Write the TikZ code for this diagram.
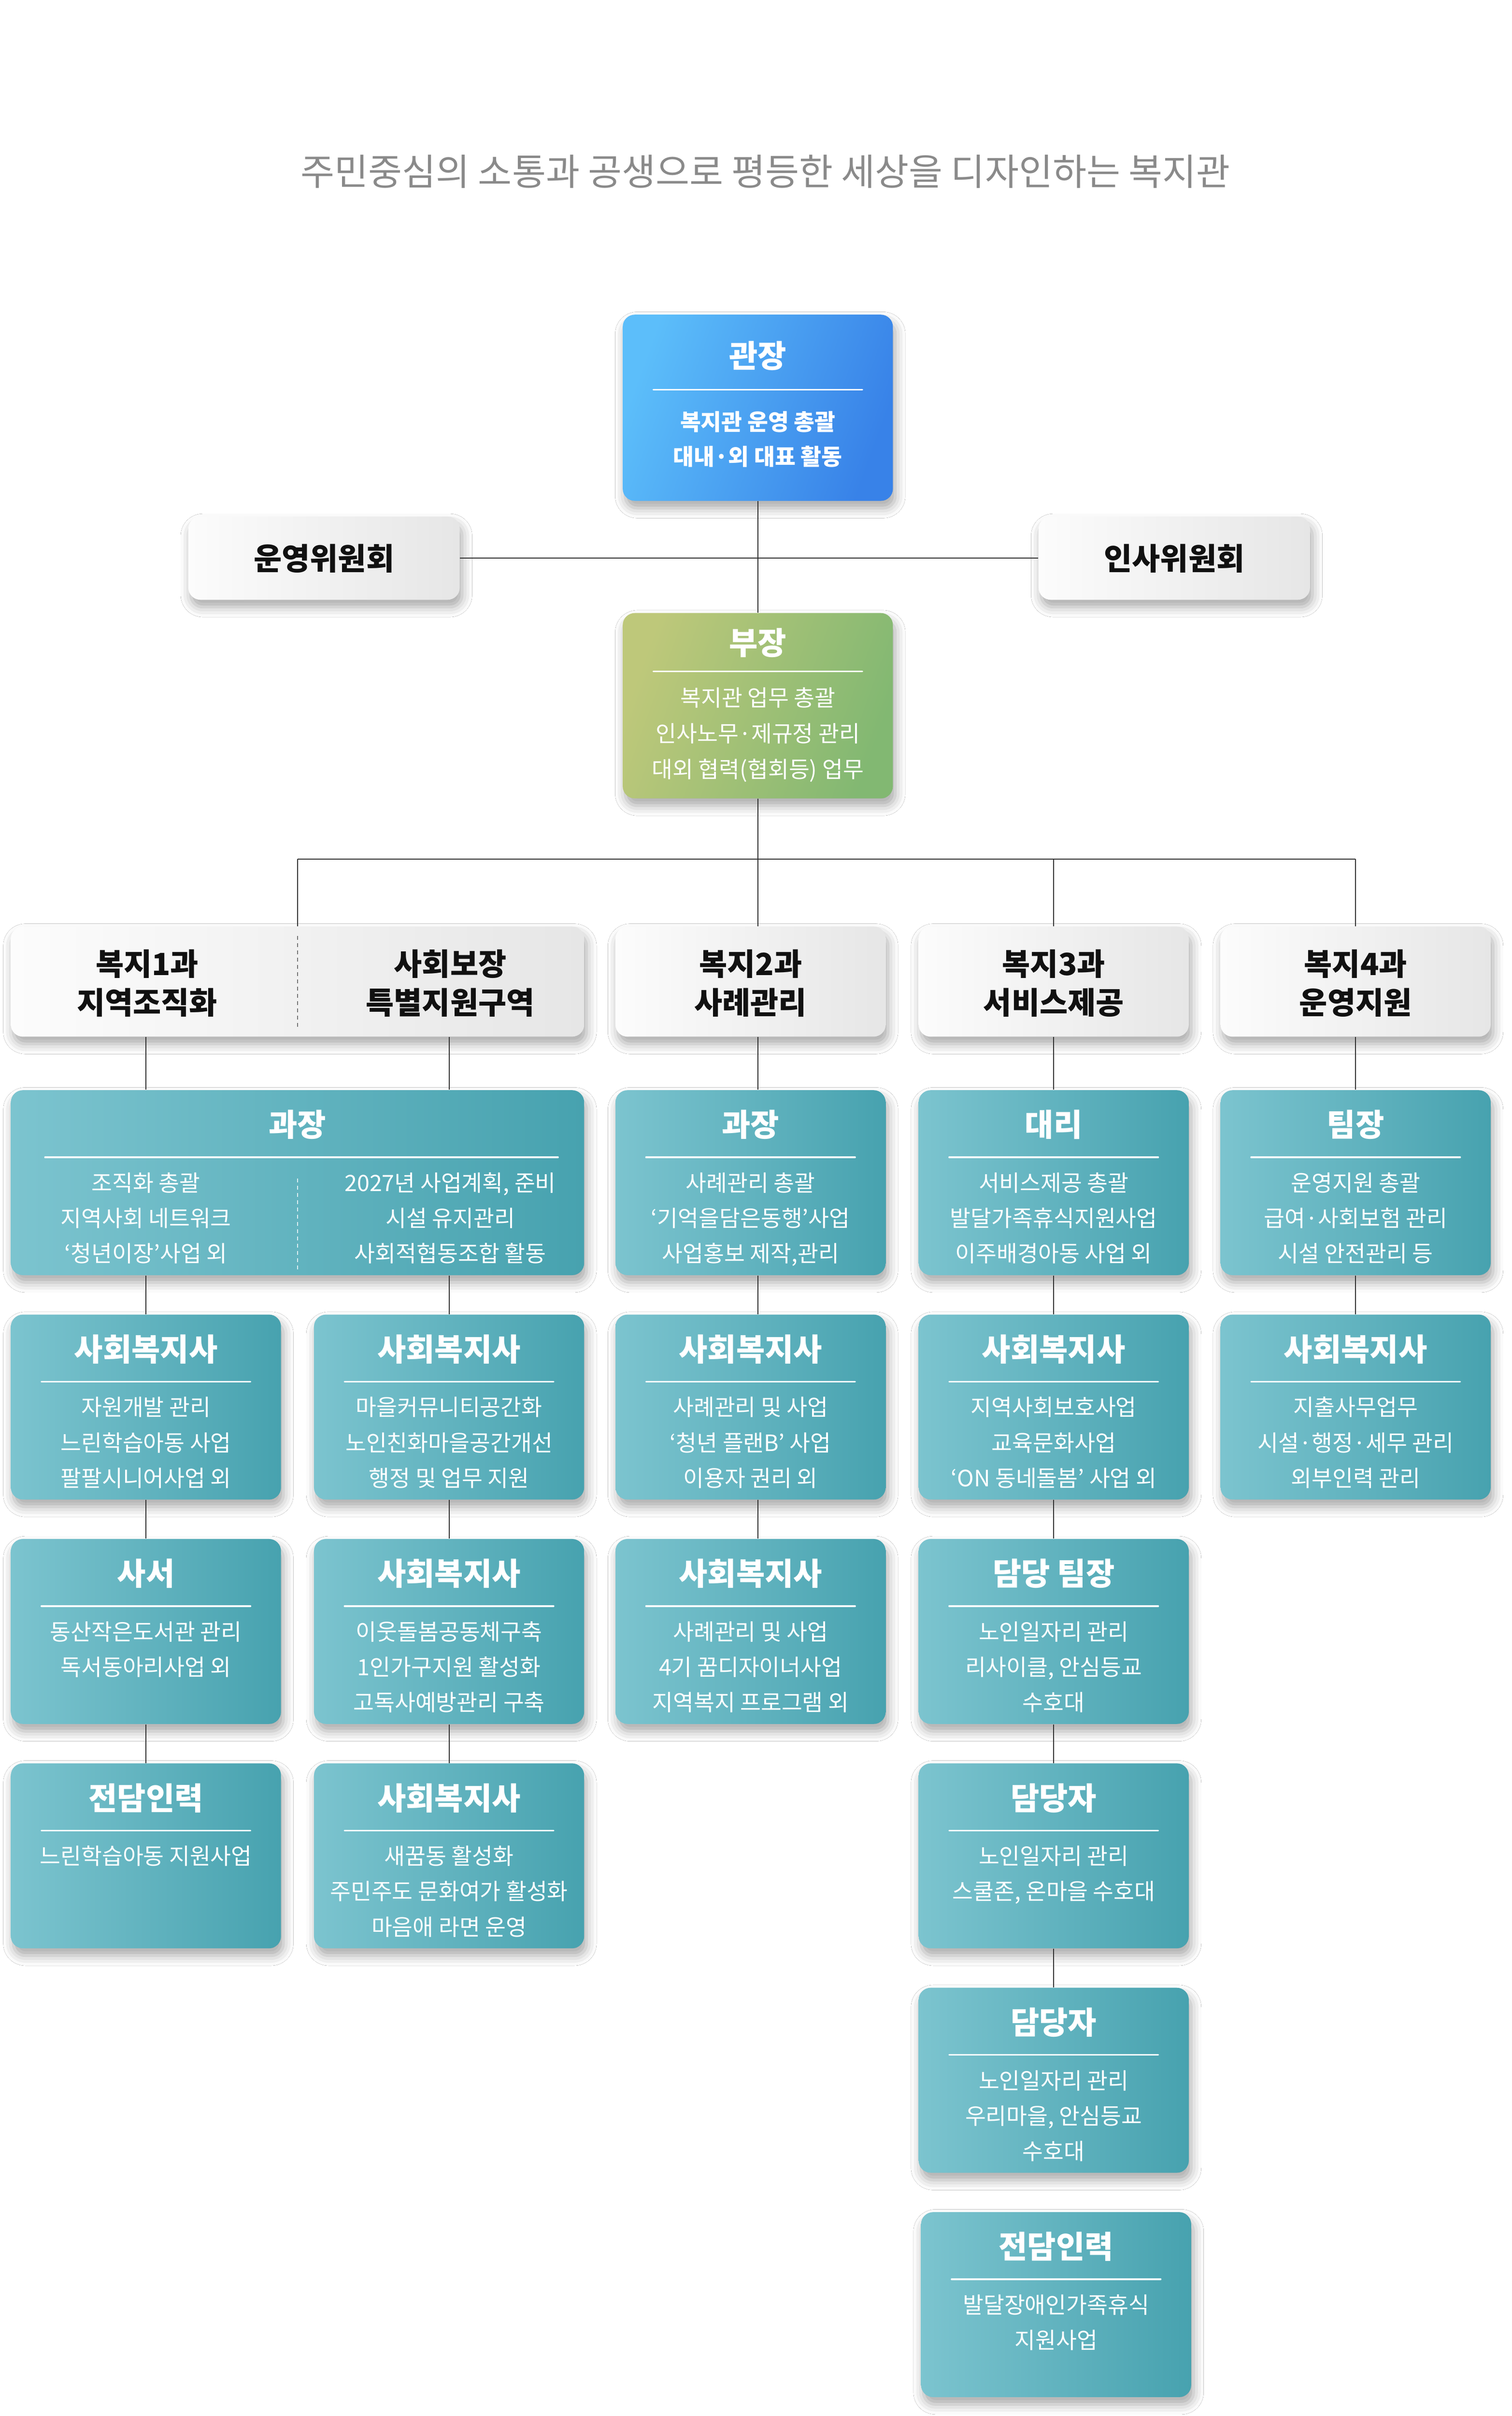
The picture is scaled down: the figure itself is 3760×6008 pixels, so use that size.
\documentclass[tikz,border=0pt]{standalone}
\usepackage{fontspec}
\setmainfont{Noto Sans CJK KR}
\usetikzlibrary{shadows.blur}
\definecolor{tealL}{HTML}{7CC4CF}
\definecolor{tealR}{HTML}{47A2AF}
\definecolor{blueL}{HTML}{5CBEFA}
\definecolor{blueR}{HTML}{3882E8}
\definecolor{grnL}{HTML}{BEC87A}
\definecolor{grnR}{HTML}{82B872}
\definecolor{gryL}{HTML}{FCFCFC}
\definecolor{gryR}{HTML}{E6E6E6}
\definecolor{headgray}{HTML}{8A8A8A}
\definecolor{conn}{HTML}{2E2E2E}
\definecolor{inkblack}{HTML}{111111}
\newcommand\fsTitle{\fontsize{15.5pt}{18pt}\selectfont\bfseries}
\newcommand\fsBody{\fontsize{11.2pt}{13pt}\selectfont}
\newcommand\fsBodyB{\fontsize{11.2pt}{13pt}\selectfont\bfseries}
\newcommand\fsGray{\fontsize{15.2pt}{18pt}\selectfont\bfseries}
\newcommand\fsHead{\fontsize{18.3pt}{21pt}\selectfont}
\tikzset{
  x=0.2pt, y=-0.2pt,
  boxbase/.style={rectangle, rounded corners=6pt, inner sep=0pt, draw=none,
    minimum width=134.4pt, minimum height=92pt,
    blur shadow={shadow xshift=1.2pt, shadow yshift=-3.6pt, shadow blur radius=5pt, shadow opacity=34}},
  tealbox/.style={boxbase, left color=tealL, right color=tealR},
  graybox/.style={boxbase, left color=gryL, right color=gryR, minimum height=54.8pt},
  ttitle/.style={inner sep=0pt, text=white, font=\fsTitle, text height=12.4pt, text depth=1.6pt},
  tbody/.style={inner sep=0pt, text=white, font=\fsBody, text height=9pt, text depth=1.2pt},
  tbodyb/.style={tbody, font=\fsBodyB},
  gtext/.style={inner sep=0pt, text=inkblack, font=\fsGray, text height=12.2pt, text depth=1.5pt},
  sepline/.style={draw=white, line width=0.8pt, line cap=round},
  connector/.style={draw=conn, line width=0.5pt},
  divline/.style={line width=0.4pt, dash pattern=on 1.8pt off 1.8pt},
}
% #1 name, #2 centre x, #3 top y, #4 title, #5 lines
\newcommand\orgbox[5]{%
  \node[tealbox] (#1) at (#2,#3+230) {};
  \node[ttitle] (#1-t) at (#2,#3+88) {#4};
  \draw[sepline] (#2-260,#3+167) -- (#2+260,#3+167);
  \foreach \bl [count=\i] in {#5} {\node[tbody] (#1-b\i) at (#2,#3+144+88*\i) {\bl};}
}
% #1 name, #2 centre x, #3 line1, #4 line2
\newcommand\grayhead[4]{%
  \node[graybox] (#1) at (#2,2441) {};
  \node[gtext] (#1-a) at (#2,2399) {#3};
  \node[gtext] (#1-b) at (#2,2495) {#4};
}
\begin{document}
\begin{tikzpicture}
\useasboundingbox (0,0) rectangle (3760,6008);
\fill[white] (0,0) rectangle (3760,6008);

% heading
\node[inner sep=0pt, text=headgray, font=\fsHead] (heading) at (1904,427)
  {주민중심의 소통과 공생으로 평등한 세상을 디자인하는 복지관};

% director
\node[boxbase, left color=blueL, right color=blueR, shading angle=70, minimum height=92.6pt] (gwanjang) at (1885,1014) {};
\node[ttitle] (gwanjang-t) at (1885,887) {관장};
\draw[sepline] (1625,969) -- (2145,969);
\node[tbodyb] (gwanjang-b1) at (1885,1050) {복지관 운영 총괄};
\node[tbodyb] (gwanjang-b2) at (1885,1137) {대내·외 대표 활동};

% committees
\node[boxbase, left color=gryL, right color=gryR, minimum width=135pt, minimum height=41.4pt] (unyeong) at (806,1388) {};
\node[gtext] (unyeong-t) at (806,1390) {운영위원회};
\node[boxbase, left color=gryL, right color=gryR, minimum width=135pt, minimum height=41.4pt] (insa) at (2921,1388) {};
\node[gtext] (insa-t) at (2921,1390) {인사위원회};

% deputy
\node[boxbase, left color=grnL, right color=grnR, shading angle=70, minimum height=92.2pt] (bujang) at (1885,1755) {};
\node[ttitle] (bujang-t) at (1885,1600) {부장};
\draw[sepline] (1625,1670) -- (2145,1670);
\node[tbody] (bujang-b1) at (1885,1737) {복지관 업무 총괄};
\node[tbody] (bujang-b2) at (1885,1826) {인사노무·제규정 관리};
\node[tbody] (bujang-b3) at (1885,1914) {대외 협력(협회등) 업무};

% department heads
\node[graybox, minimum width=285.2pt] (g01) at (740,2441) {};
\node[gtext] (g01-a) at (366,2399) {복지1과};
\node[gtext] (g01-b) at (366,2495) {지역조직화};
\node[gtext] (g01-c) at (1120,2399) {사회보장};
\node[gtext] (g01-d) at (1120,2495) {특별지원구역};
\draw[divline, draw=black!55] (740,2328) -- (740,2553);
\grayhead{g2}{1867}{복지2과}{사례관리}
\grayhead{g3}{2621}{복지3과}{서비스제공}
\grayhead{g4}{3372}{복지4과}{운영지원}

% row 1
\node[tealbox, minimum width=285.2pt] (t01) at (740,2941) {};
\node[ttitle] (t01-t) at (740,2799) {과장};
\draw[sepline] (112,2878) -- (1388,2878);
\node[tbody] (t01-l1) at (363,2943) {조직화 총괄};
\node[tbody] (t01-l2) at (363,3031) {지역사회 네트워크};
\node[tbody] (t01-l3) at (363,3119) {‘청년이장’사업 외};
\node[tbody] (t01-r1) at (1120,2943) {2027년 사업계획, 준비};
\node[tbody] (t01-r2) at (1120,3031) {시설 유지관리};
\node[tbody] (t01-r3) at (1120,3119) {사회적협동조합 활동};
\draw[divline, draw=white, draw opacity=0.8] (740,2931) -- (740,3157);
\orgbox{c2r1}{1867}{2711}{과장}{{사례관리 총괄},{‘기억을담은동행’사업},{사업홍보 제작,관리}}
\orgbox{c3r1}{2621}{2711}{대리}{{서비스제공 총괄},{발달가족휴식지원사업},{이주배경아동 사업 외}}
\orgbox{c4r1}{3372}{2711}{팀장}{{운영지원 총괄},{급여·사회보험 관리},{시설 안전관리 등}}

% row 2
\orgbox{c0r2}{363}{3269}{사회복지사}{{자원개발 관리},{느린학습아동 사업},{팔팔시니어사업 외}}
\orgbox{c1r2}{1117}{3269}{사회복지사}{{마을커뮤니티공간화},{노인친화마을공간개선},{행정 및 업무 지원}}
\orgbox{c2r2}{1867}{3269}{사회복지사}{{사례관리 및 사업},{‘청년 플랜B’ 사업},{이용자 권리 외}}
\orgbox{c3r2}{2621}{3269}{사회복지사}{{지역사회보호사업},{교육문화사업},{‘ON 동네돌봄’ 사업 외}}
\orgbox{c4r2}{3372}{3269}{사회복지사}{{지출사무업무},{시설·행정·세무 관리},{외부인력 관리}}

% row 3
\orgbox{c0r3}{363}{3827}{사서}{{동산작은도서관 관리},{독서동아리사업 외}}
\orgbox{c1r3}{1117}{3827}{사회복지사}{{이웃돌봄공동체구축},{1인가구지원 활성화},{고독사예방관리 구축}}
\orgbox{c2r3}{1867}{3827}{사회복지사}{{사례관리 및 사업},{4기 꿈디자이너사업},{지역복지 프로그램 외}}
\orgbox{c3r3}{2621}{3827}{담당 팀장}{{노인일자리 관리},{리사이클, 안심등교},{수호대}}

% row 4
\orgbox{c0r4}{363}{4385}{전담인력}{{느린학습아동 지원사업}}
\orgbox{c1r4}{1117}{4385}{사회복지사}{{새꿈동 활성화},{주민주도 문화여가 활성화},{마음애 라면 운영}}
\orgbox{c3r4}{2621}{4385}{담당자}{{노인일자리 관리},{스쿨존, 온마을 수호대}}

% rows 5-6
\orgbox{c3r5}{2621}{4943}{담당자}{{노인일자리 관리},{우리마을, 안심등교},{수호대}}
\orgbox{c3r6}{2627}{5501}{전담인력}{{발달장애인가족휴식},{지원사업}}

% connectors
\coordinate (busL) at (740,2136);
\coordinate (busR) at (3372,2136);
\draw[connector] (gwanjang.south) -- (bujang.north);
\draw[connector] (unyeong.east) -- (insa.west);
\draw[connector] (bujang.south) -- (bujang.south |- g2.north);
\draw[connector] (busL) -- (busR);
\draw[connector] (busL) -- (g01.north);
\draw[connector] (g3.north |- busL) -- (g3.north);
\draw[connector] (busR) -- (g4.north);

\draw[connector] (g01.south -| c0r2.north) -- (t01.north -| c0r2.north);
\draw[connector] (g01.south -| c1r2.north) -- (t01.north -| c1r2.north);
\draw[connector] (g2.south -| bujang.south) -- (c2r1.north -| bujang.south);
\draw[connector] (g3.south) -- (c3r1.north);
\draw[connector] (g4.south) -- (c4r1.north);

\draw[connector] (t01.south -| c0r2.north) -- (c0r2.north);
\draw[connector] (t01.south -| c1r2.north) -- (c1r2.north);
\draw[connector] (c2r1.south -| bujang.south) -- (c2r2.north -| bujang.south);
\draw[connector] (c3r1.south) -- (c3r2.north);
\draw[connector] (c4r1.south) -- (c4r2.north);

\draw[connector] (c0r2.south) -- (c0r3.north);
\draw[connector] (c1r2.south) -- (c1r3.north);
\draw[connector] (c2r2.south -| bujang.south) -- (c2r3.north -| bujang.south);
\draw[connector] (c3r2.south) -- (c3r3.north);

\draw[connector] (c0r3.south) -- (c0r4.north);
\draw[connector] (c1r3.south) -- (c1r4.north);
\draw[connector] (c3r3.south) -- (c3r4.north);
\draw[connector] (c3r4.south) -- (c3r5.north);
\end{tikzpicture}
\end{document}
